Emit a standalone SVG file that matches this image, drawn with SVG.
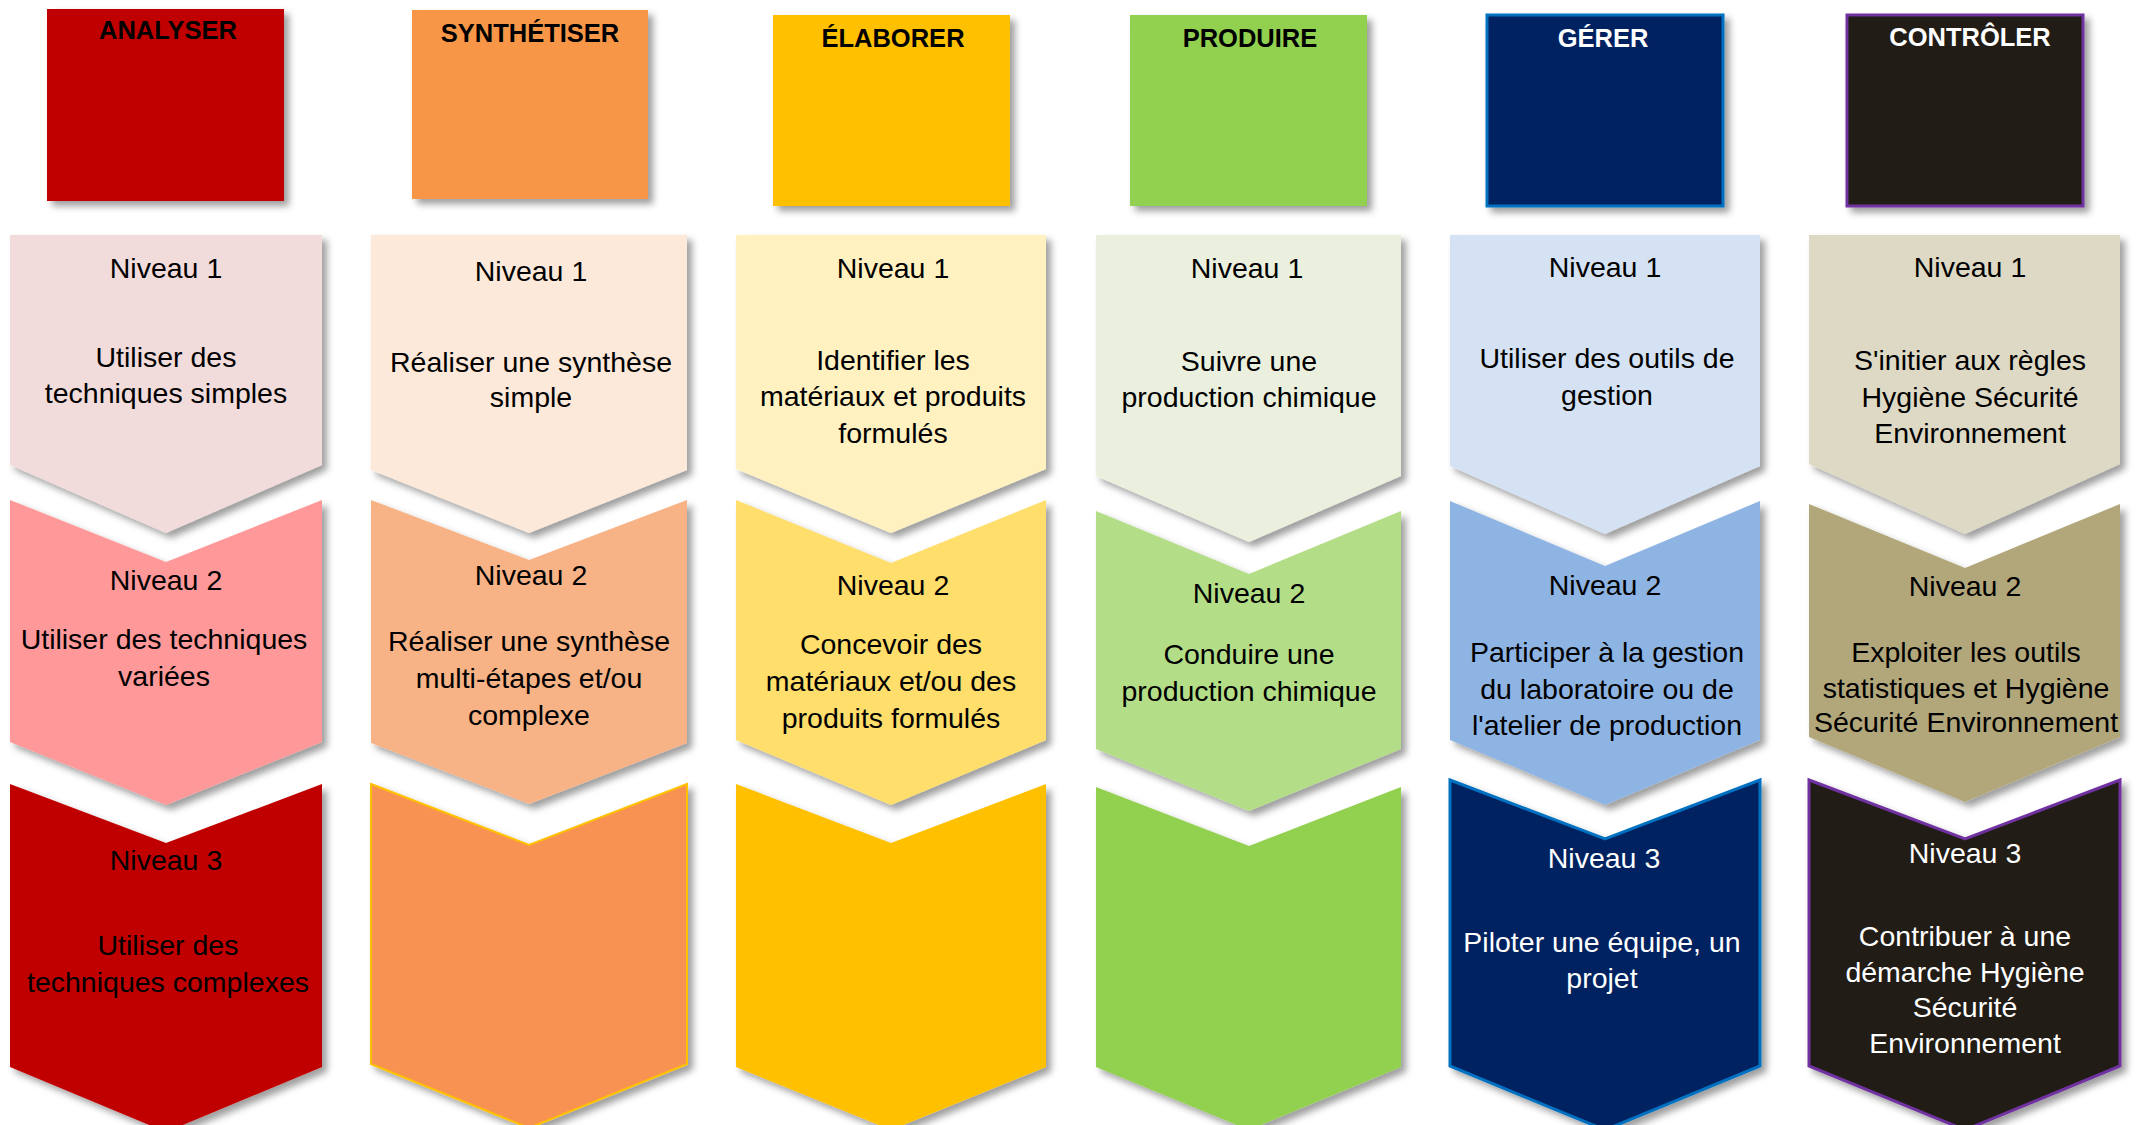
<svg xmlns="http://www.w3.org/2000/svg" width="2138" height="1125" viewBox="0 0 2138 1125">
<defs>
<filter id="sh" x="-10%" y="-10%" width="130%" height="130%">
<feDropShadow dx="5" dy="5" stdDeviation="3.5" flood-color="#000" flood-opacity="0.38"/>
</filter>
<style>
.hd{filter:url(#sh)}
.ch{filter:url(#sh)}
.t{font-family:"Liberation Sans",Arial,sans-serif;font-size:28.5px;text-anchor:middle;fill:#000}
.ti{font-family:"Liberation Sans",Arial,sans-serif;font-size:25.5px;font-weight:bold;text-anchor:middle;fill:#000}
text.w{fill:#fff}
</style>
</defs>
<rect width="2138" height="1125" fill="#fff"/>

<g id="col-analyser">
<g id="h-analyser"><rect class="hd" x="47" y="9" width="237" height="192" fill="#C00000"/><text class="ti" x="168" y="39">ANALYSER</text></g>
<g id="a-n1"><path class="ch" d="M10,235 H322 V465 L166,533 L10,465 Z" fill="#F2DCDB"/>
<text class="t" x="166" y="278">Niveau 1</text><text class="t" x="166" y="367">Utiliser des</text><text class="t" x="166" y="403">techniques simples</text></g>
<g id="a-n2"><path class="ch" d="M10,500 L166,562 L322,500 V742 L166,805 L10,742 Z" fill="#FF9999"/>
<text class="t" x="166" y="590">Niveau 2</text><text class="t" x="164" y="649">Utiliser des techniques</text><text class="t" x="164" y="686">variées</text></g>
<g id="a-n3"><path class="ch" d="M10,784 L166,843 L322,784 V1067 L166,1132 L10,1067 Z" fill="#C00000"/>
<text class="t" x="166" y="870">Niveau 3</text><text class="t" x="168" y="955">Utiliser des</text><text class="t" x="168" y="992">techniques complexes</text></g>
</g>

<g id="col-synthetiser">
<g id="h-synth"><rect class="hd" x="412" y="10" width="236" height="189" fill="#F79646"/><text class="ti" x="530" y="42">SYNTHÉTISER</text></g>
<g id="s-n1"><path class="ch" d="M371,235 H687 V470 L529,533 L371,470 Z" fill="#FDE9D9"/>
<text class="t" x="531" y="281">Niveau 1</text><text class="t" x="531" y="372">Réaliser une synthèse</text><text class="t" x="531" y="407">simple</text></g>
<g id="s-n2"><path class="ch" d="M371,500 L529,560 L687,500 V743 L529,804 L371,743 Z" fill="#F7B386"/>
<text class="t" x="531" y="585">Niveau 2</text><text class="t" x="529" y="651">Réaliser une synthèse</text><text class="t" x="529" y="688">multi-étapes et/ou</text><text class="t" x="529" y="725">complexe</text></g>
<g id="s-n3"><path class="ch" d="M371,784 L529,845 L687,784 V1064 L529,1128 L371,1064 Z" fill="#F79253" stroke="#FFC000" stroke-width="2"/></g>
</g>

<g id="col-elaborer">
<g id="h-elab"><rect class="hd" x="773" y="15" width="237" height="191" fill="#FFC000"/><text class="ti" x="893" y="47">ÉLABORER</text></g>
<g id="e-n1"><path class="ch" d="M736,235 H1046 V469 L891,533 L736,469 Z" fill="#FFF2C0"/>
<text class="t" x="893" y="278">Niveau 1</text><text class="t" x="893" y="370">Identifier les</text><text class="t" x="893" y="406">matériaux et produits</text><text class="t" x="893" y="443">formulés</text></g>
<g id="e-n2"><path class="ch" d="M736,500 L891,563 L1046,500 V740 L891,805 L736,740 Z" fill="#FFDE6C"/>
<text class="t" x="893" y="595">Niveau 2</text><text class="t" x="891" y="654">Concevoir des</text><text class="t" x="891" y="691">matériaux et/ou des</text><text class="t" x="891" y="728">produits formulés</text></g>
<g id="e-n3"><path class="ch" d="M736,784 L891,843 L1046,784 V1067 L891,1130 L736,1067 Z" fill="#FFC000"/></g>
</g>

<g id="col-produire">
<g id="h-prod"><rect class="hd" x="1130" y="15" width="237" height="191" fill="#92D050"/><text class="ti" x="1250" y="47">PRODUIRE</text></g>
<g id="p-n1"><path class="ch" d="M1096,235 H1401 V476 L1249,542 L1096,476 Z" fill="#EBF0DE"/>
<text class="t" x="1247" y="278">Niveau 1</text><text class="t" x="1249" y="371">Suivre une</text><text class="t" x="1249" y="407">production chimique</text></g>
<g id="p-n2"><path class="ch" d="M1096,511 L1249,574 L1401,511 V749 L1249,811 L1096,749 Z" fill="#B4DD87"/>
<text class="t" x="1249" y="603">Niveau 2</text><text class="t" x="1249" y="664">Conduire une</text><text class="t" x="1249" y="701">production chimique</text></g>
<g id="p-n3"><path class="ch" d="M1096,787 L1249,846 L1401,787 V1067 L1249,1130 L1096,1067 Z" fill="#92D050"/></g>
</g>

<g id="col-gerer">
<g id="h-gerer"><rect class="hd" x="1487" y="15" width="236" height="191" fill="#002060" stroke="#0070C0" stroke-width="3"/><text class="ti w" x="1603" y="47">GÉRER</text></g>
<g id="g-n1"><path class="ch" d="M1450,235 H1760 V466 L1605,534 L1450,466 Z" fill="#D5E2F3"/>
<text class="t" x="1605" y="277">Niveau 1</text><text class="t" x="1607" y="368">Utiliser des outils de</text><text class="t" x="1607" y="405">gestion</text></g>
<g id="g-n2"><path class="ch" d="M1450,501 L1605,566 L1760,501 V740 L1605,805 L1450,740 Z" fill="#8EB4E3"/>
<text class="t" x="1605" y="595">Niveau 2</text><text class="t" x="1607" y="662">Participer à la gestion</text><text class="t" x="1607" y="699">du laboratoire ou de</text><text class="t" x="1607" y="735">l'atelier de production</text></g>
<g id="g-n3"><path class="ch" d="M1450,780 L1605,839 L1760,780 V1066 L1605,1130 L1450,1066 Z" fill="#002060" stroke="#0070C0" stroke-width="3"/>
<text class="t w" x="1604" y="868">Niveau 3</text><text class="t w" x="1602" y="952">Piloter une équipe, un</text><text class="t w" x="1602" y="988">projet</text></g>
</g>

<g id="col-controler">
<g id="h-ctrl"><rect class="hd" x="1847" y="15" width="236" height="191" fill="#201E12" stroke="#7030A0" stroke-width="3"/><text class="ti w" x="1970" y="46">CONTRÔLER</text></g>
<g id="c-n1"><path class="ch" d="M1809,235 H2120 V464 L1965,534 L1809,464 Z" fill="#DDD9C4"/>
<text class="t" x="1970" y="277">Niveau 1</text><text class="t" x="1970" y="370">S'initier aux règles</text><text class="t" x="1970" y="407">Hygiène Sécurité</text><text class="t" x="1970" y="443">Environnement</text></g>
<g id="c-n2"><path class="ch" d="M1809,504 L1965,568 L2120,504 V737 L1965,802 L1809,737 Z" fill="#B2A77A"/>
<text class="t" x="1965" y="596">Niveau 2</text><text class="t" x="1966" y="662">Exploiter les outils</text><text class="t" x="1966" y="698">statistiques et Hygiène</text><text class="t" x="1966" y="732">Sécurité Environnement</text></g>
<g id="c-n3"><path class="ch" d="M1809,780 L1965,839 L2120,780 V1066 L1965,1130 L1809,1066 Z" fill="#201E12" stroke="#7030A0" stroke-width="3"/>
<text class="t w" x="1965" y="863">Niveau 3</text><text class="t w" x="1965" y="946">Contribuer à une</text><text class="t w" x="1965" y="982">démarche Hygiène</text><text class="t w" x="1965" y="1017">Sécurité</text><text class="t w" x="1965" y="1053">Environnement</text></g>
</g>

<g id="connectors"></g>
</svg>
